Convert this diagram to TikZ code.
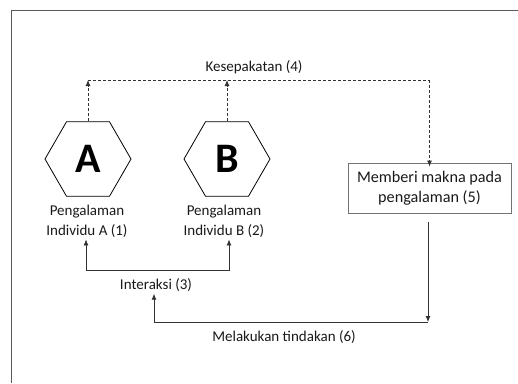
\documentclass[tikz,border=0pt]{standalone}
\usepackage{fontspec}
\setmainfont{Carlito}
\usepackage{tikz}
\usetikzlibrary{arrows.meta,positioning,shapes.geometric}

\begin{document}
\begin{tikzpicture}[x=1pt,y=-1pt,
            hexnode/.style={draw,thick,regular polygon,regular polygon sides=6,minimum size=86pt,inner sep=0pt,font=\fontsize{42}{42}\selectfont\bfseries},
            lab/.style={align=center,font=\fontsize{15}{20}\selectfont,text=black!90,inner sep=2pt},
            boxnode/.style={draw=black!55,thick,align=center,minimum width=163pt,minimum height=50pt,inner sep=0pt,font=\fontsize{16.2}{20}\selectfont,text=black!90},
            dasharrow/.style={draw=black!80,thick,dash pattern=on 3pt off 2pt,-{Latex[length=6pt,width=5pt]}},
            dashline/.style={draw=black!80,thick,dash pattern=on 3pt off 2pt},
            arr/.style={draw=black!80,thick,-{Latex[length=6pt,width=5pt]}},
            frame/.style={draw=black!65,line width=1.8pt}
          ]
          \useasboundingbox (0,0) rectangle (518,383);
          \draw[frame] (11.5,383) -- (11.5,10.5) -- (518,10.5);

          %individuals
          \node[hexnode] (A) at (88,159) {A};
          \node[hexnode] (B) at (227,159) {B};
          \node[lab] (lblA) at (87,221) {Pengalaman\\Individu A (1)};
          \node[lab] (lblB) at (224,221) {Pengalaman\\Individu B (2)};

          %meaning
          \node[boxnode] (makna) at (429.5,188) {Memberi makna pada\\pengalaman (5)};

          %labels
          \node[lab] (sepakat) at (254,67) {Kesepakatan (4)};
          \node[lab] (interaksi) at (156,285) {Interaksi (3)};
          \node[lab] (tindakan) at (284,337) {Melakukan tindakan (6)};

          %agreement
          \coordinate (top) at (0,80);
          \coordinate (kA) at (A.north |- top);
          \coordinate (kB) at (B.north |- top);
          \coordinate (kM) at (makna.north |- top);
          \draw[dasharrow] (A.north) -- (kA);
          \draw[dasharrow] (B.north) -- (kB);
          \draw[dashline] (kA) -- (kM);
          \draw[dasharrow] (kM) -- ([yshift=-4pt]makna.north);

          %interaction
          \coordinate (iA) at (86,270);
          \coordinate (iB) at (229,270);
          \draw[arr,{Latex[length=6pt,width=5pt]}-{Latex[length=6pt,width=5pt]}] (iA |- lblA.south) -- (iA) -- (iB) -- (iB |- lblB.south);

          %action
          \coordinate (t1) at (428,222);
          \coordinate (t2) at (428,322);
          \coordinate (t3) at (154,322);
          \draw[arr] (t1) -- (t2);
          \draw[arr] (t2) -- (t3) -- (t3 |- interaksi.south);

\end{tikzpicture}
\end{document}
